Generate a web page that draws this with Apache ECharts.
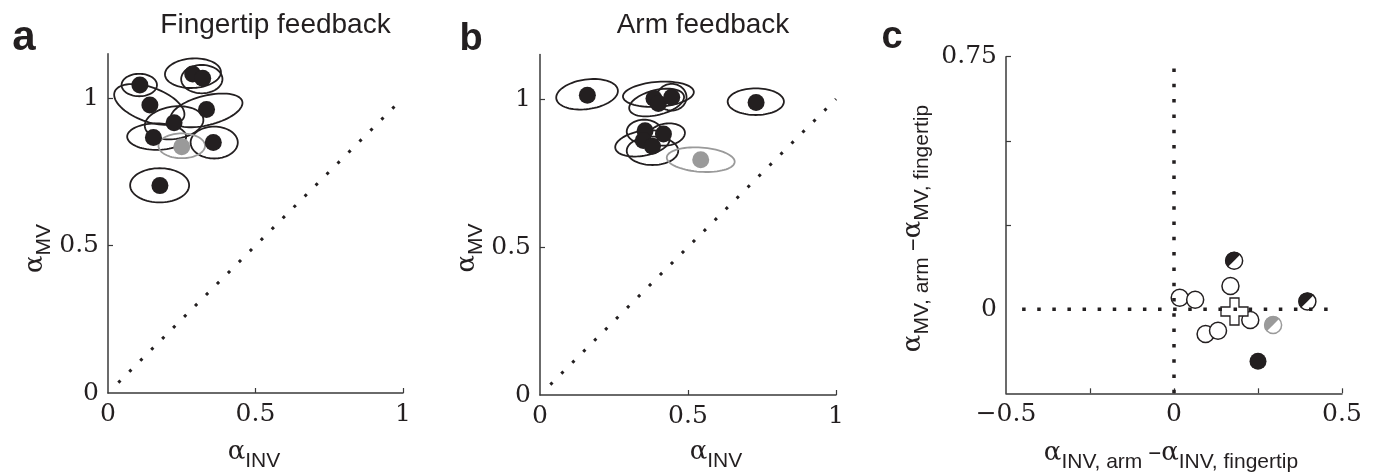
<!DOCTYPE html>
<html>
<head>
<meta charset="utf-8">
<script src="https://cdn.jsdelivr.net/npm/echarts@6/dist/echarts.min.js"></script>
<style>
html, body { margin: 0; padding: 0; background: #fff; }
#main { width: 1373px; height: 476px; }
</style>
</head>
<body>
<div id="main"></div>
<script>
var INK = '#231f20';
var AXIS = '#3a3a3a';
var GREY = '#9a9a9a';

// a: fingertip feedback  [alphaINV, alphaMV]
var fingerBlack = [[0.108,1.044],[0.142,0.976],[0.287,1.081],[0.321,1.067],[0.334,0.961],
                   [0.224,0.916],[0.154,0.866],[0.357,0.849],[0.176,0.703]];
var fingerGrey = [[0.25,0.835]];
// confidence ellipses  [cx, cy, rx, ry, angle deg]
var fingerEll = [[0.106,1.044,0.06,0.038,0],[0.14,0.978,0.125,0.058,-20],[0.288,1.084,0.095,0.05,3],
                 [0.318,1.064,0.07,0.048,0],[0.334,0.958,0.125,0.05,14],[0.224,0.916,0.1,0.055,8],
                 [0.165,0.869,0.1,0.045,0],[0.36,0.849,0.08,0.054,0],[0.175,0.704,0.1,0.058,0]];
var fingerEllGrey = [[0.25,0.838,0.079,0.042,0]];

// b: arm feedback
var armBlack = [[0.16,1.013],[0.385,1.002],[0.4,0.985],[0.445,1.006],[0.73,0.988],
                [0.355,0.893],[0.417,0.882],[0.349,0.86],[0.38,0.84]];
var armGrey = [[0.543,0.795]];
var armEll = [[0.159,1.016,0.105,0.05,8],[0.4,1.016,0.12,0.042,4],[0.394,0.988,0.095,0.042,14],
              [0.445,1.006,0.05,0.045,0],[0.729,0.991,0.095,0.045,0],[0.352,0.89,0.059,0.04,0],
              [0.428,0.88,0.062,0.037,8],[0.346,0.85,0.093,0.042,10],[0.38,0.825,0.087,0.048,0]];
var armEllGrey = [[0.543,0.795,0.115,0.041,-4]];

// c: differences arm - fingertip
var diffOpen = [[0.168,0.069],[0.017,0.034],[0.063,0.028],[0.094,-0.074],[0.131,-0.064],[0.227,-0.032]];
var diffHalfBlack = [[0.179,0.144],[0.397,0.023]];
var diffHalfGrey = [[0.295,-0.047]];
var diffFilled = [[0.25,-0.155]];
var diffMean = [[0.18,-0.007]];

// reference lines
var unityLine = [[0.035,0.035],[1,1]];
var zeroV = [[0,0.715],[0,-0.25]];
var zeroH = [[-0.452,0],[0.475,0]];

// ticks / labels
var abLabels = [0, 0.5, 1];
var abTicks = [0.5, 1];
var cxLabels = [-0.5, 0, 0.5];
var cxTicks = [-0.25, 0, 0.25, 0.5];
var cyLabels = [0, 0.75];
var cyTicks = [0.25, 0.5, 0.75];

var chart = echarts.init(document.getElementById('main'));

function fmt(v) {
  return v < 0 ? '\u2212' + (-v) : String(v);
}

function axis(gi, min, max, labels, ticks) {
  return {
    type: 'value', gridIndex: gi, min: min, max: max,
    splitLine: { show: false },
    axisLine: { onZero: false, lineStyle: { color: AXIS, width: 1.5 } },
    axisTick: { inside: true, length: 5, customValues: ticks, lineStyle: { color: AXIS, width: 1.2 } },
    axisLabel: { customValues: labels, formatter: fmt, color: INK, margin: 9,
                 fontFamily: 'DejaVu Serif', fontSize: 25 }
  };
}

function ellipseItem(stroke) {
  return function (params, api) {
    var cx = api.value(0), cy = api.value(1), rx = api.value(2), ry = api.value(3);
    var a = api.value(4) * Math.PI / 180;
    var pts = [];
    for (var k = 0; k < 72; k++) {
      var t = k / 72 * Math.PI * 2;
      var ex = rx * Math.cos(t), ey = ry * Math.sin(t);
      pts.push(api.coord([cx + ex * Math.cos(a) - ey * Math.sin(a),
                          cy + ex * Math.sin(a) + ey * Math.cos(a)]));
    }
    return { type: 'polygon', shape: { points: pts },
             style: { fill: 'none', stroke: stroke, lineWidth: 1.8 } };
  };
}

function halfItem(fillCol, edgeCol) {
  return function (params, api) {
    var p = api.coord([api.value(0), api.value(1)]);
    return { type: 'group', children: [
      { type: 'circle', shape: { cx: p[0], cy: p[1], r: 8.5 },
        style: { fill: '#fff', stroke: edgeCol, lineWidth: 1.5 } },
      { type: 'sector', shape: { cx: p[0], cy: p[1], r0: 0, r: 9,
          startAngle: Math.PI * 0.75, endAngle: Math.PI * 1.75, clockwise: true },
        style: { fill: fillCol } }
    ] };
  };
}

function dotted(gi, data, w, dash) {
  return { type: 'line', xAxisIndex: gi, yAxisIndex: gi, data: data, symbol: 'none',
           silent: true, lineStyle: { color: INK, width: w, type: dash, cap: 'butt' } };
}

function ellSeries(gi, data, col) {
  return { type: 'custom', xAxisIndex: gi, yAxisIndex: gi, data: data,
           encode: { x: 0, y: 1 }, renderItem: ellipseItem(col) };
}

function dots(gi, data, col) {
  return { type: 'scatter', xAxisIndex: gi, yAxisIndex: gi, data: data,
           symbolSize: 17, itemStyle: { color: col, opacity: 1 } };
}

var sub = {
  a: { fontFamily: 'DejaVu Serif', fontSize: 26, lineHeight: 30, verticalAlign: 'top', fill: INK },
  s: { fontFamily: 'Liberation Sans', fontSize: 21, lineHeight: 22, padding: [12, 0, 0, 0],
       verticalAlign: 'top', fill: INK }
};

function label(x, y, txt, rot) {
  return { type: 'text', x: x, y: y, rotation: rot || 0,
           style: { text: txt, rich: sub, align: 'center', verticalAlign: 'middle' } };
}

function plain(x, y, txt, size, bold) {
  return { type: 'text', x: x, y: y,
           style: { text: txt, fontFamily: 'Liberation Sans', fontSize: size,
                    fontWeight: bold ? 'bold' : 'normal', fill: INK,
                    align: 'center', verticalAlign: 'middle' } };
}

chart.setOption({
  animation: false,
  backgroundColor: '#fff',
  grid: [
    { left: 108, top: 53.75, width: 295, height: 339.25 },
    { left: 540, top: 54.6, width: 296, height: 340.4 },
    { left: 1006, top: 56.7, width: 336, height: 336.6 }
  ],
  xAxis: [
    axis(0, 0, 1, abLabels, abTicks),
    axis(1, 0, 1, abLabels, abTicks),
    axis(2, -0.5, 0.5, cxLabels, cxTicks)
  ],
  yAxis: [
    axis(0, 0, 1.15, abLabels, abTicks),
    axis(1, 0, 1.15, abLabels, abTicks),
    axis(2, -0.25, 0.75, cyLabels, cyTicks)
  ],
  graphic: [
    plain(24, 38, 'a', 42, true),
    plain(471, 39.5, 'b', 38, true),
    plain(892, 37.5, 'c', 38, true),
    plain(275.5, 25.7, 'Fingertip feedback', 28),
    plain(703, 25.7, 'Arm feedback', 28),
    label(254, 454, '{a|\u03b1}{s|INV}'),
    label(716, 454, '{a|\u03b1}{s|INV}'),
    label(37, 248.5, '{a|\u03b1}{s|MV}', Math.PI / 2),
    label(469, 248, '{a|\u03b1}{s|MV}', Math.PI / 2),
    label(1171, 455, '{a|\u03b1}{s|INV, arm }{a|\u2013\u03b1}{s|INV, fingertip}'),
    label(915, 228.5, '{a|\u03b1}{s|MV, arm }{a|\u2013\u03b1}{s|MV, fingertip}', Math.PI / 2)
  ],
  series: [
    dotted(0, unityLine, 3, [3, 12.5]),
    ellSeries(0, fingerEll, INK),
    ellSeries(0, fingerEllGrey, GREY),
    dots(0, fingerBlack, INK),
    dots(0, fingerGrey, GREY),

    dotted(1, unityLine, 3, [3, 12.5]),
    ellSeries(1, armEll, INK),
    ellSeries(1, armEllGrey, GREY),
    dots(1, armBlack, INK),
    dots(1, armGrey, GREY),

    dotted(2, zeroV, 3.5, [3.5, 11.8]),
    dotted(2, zeroH, 3.5, [3.5, 11.6]),
    { type: 'scatter', xAxisIndex: 2, yAxisIndex: 2, data: diffOpen, symbolSize: 17,
      itemStyle: { color: '#fff', borderColor: INK, borderWidth: 1.5, opacity: 1 } },
    { type: 'custom', xAxisIndex: 2, yAxisIndex: 2, data: diffHalfBlack, encode: { x: 0, y: 1 },
      renderItem: halfItem(INK, INK) },
    { type: 'custom', xAxisIndex: 2, yAxisIndex: 2, data: diffHalfGrey, encode: { x: 0, y: 1 },
      renderItem: halfItem(GREY, GREY) },
    dots(2, diffFilled, INK),
    { type: 'scatter', xAxisIndex: 2, yAxisIndex: 2, data: diffMean, symbolSize: 27,
      symbol: 'path://M9,0 H18 V9 H27 V18 H18 V27 H9 V18 H0 V9 H9 Z',
      itemStyle: { color: '#fff', borderColor: INK, borderWidth: 1.3, opacity: 1 } }
  ]
});
</script>
</body>
</html>
